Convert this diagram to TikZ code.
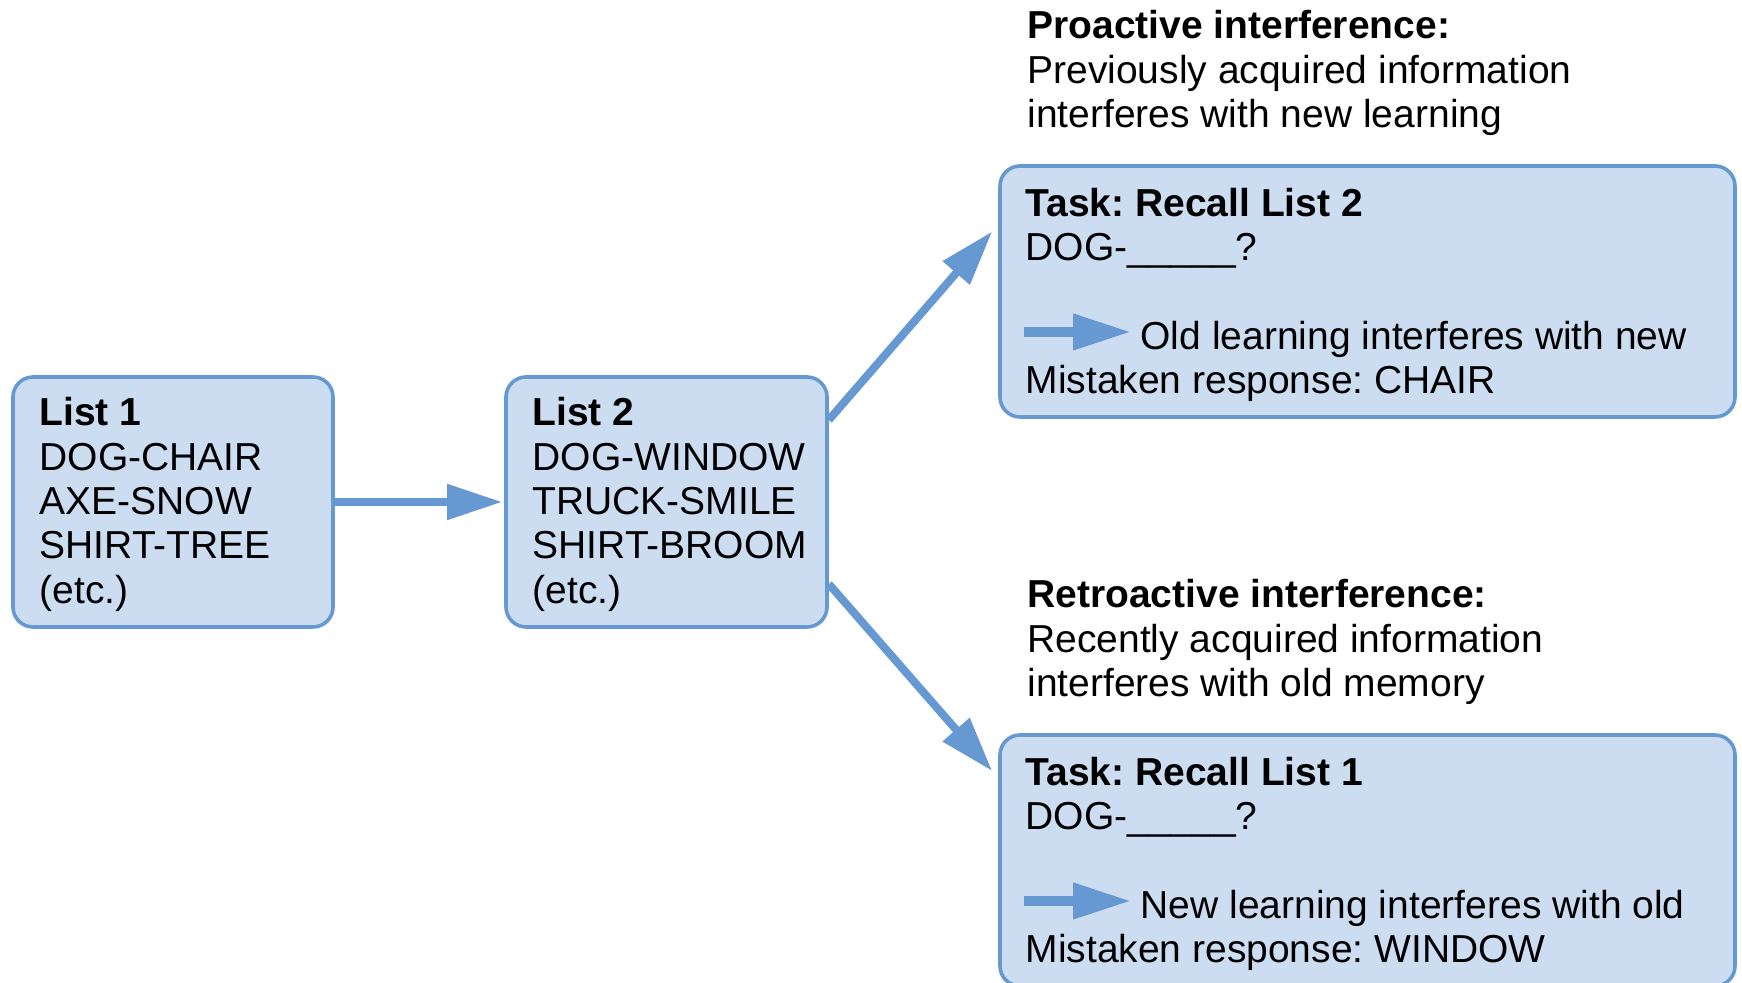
\documentclass[tikz,border=0pt]{standalone}
\usepackage{fontspec}
\setmainfont{Liberation Sans}
\usetikzlibrary{arrows.meta}
\frenchspacing
\definecolor{boxfill}{RGB}{204,221,242}
\definecolor{lineblue}{RGB}{102,153,210}
\begin{document}
\begin{tikzpicture}[x=0.5pt,y=0.5pt,
  box/.style={draw=lineblue, fill=boxfill, line width=1.8pt, rounded corners=10pt, inner sep=0pt},
  txt/.style={align=left, inner sep=0pt, font=\fontsize{19.5}{22.2}\selectfont\frenchspacing},
  conn/.style={draw=lineblue, line width=4pt, -{Triangle[length=27.5pt,width=17pt]}},
  minor/.style={draw=lineblue, line width=5pt, -{Triangle[length=29pt,width=17pt]}}]
\useasboundingbox (0,0) rectangle (1742,983);
% boxes
\node[box, minimum width=160pt, minimum height=125pt] (l1) at (173,481) {};
\node[box, minimum width=160.5pt, minimum height=125pt] (l2) at (666.5,481) {};
\node[box, minimum width=367.5pt, minimum height=125.5pt] (t2) at (1367.5,691.5) {};
\node[box, minimum width=367.5pt, minimum height=125.5pt] (t1) at (1367.5,122.5) {};
% box texts
\node[txt, anchor=west] (l1txt) at ([xshift=14pt,yshift=-1.2pt]l1.west)
  {\textbf{List 1}\\DOG-CHAIR\\AXE-SNOW\\SHIRT-TREE\\(etc.)};
\node[txt, anchor=west] (l2txt) at ([xshift=14pt,yshift=-1.2pt]l2.west)
  {\textbf{List 2}\\DOG-WINDOW\\TRUCK-SMILE\\SHIRT-BROOM\\(etc.)};
\node[txt, anchor=west] (t2txt) at ([xshift=13.5pt,yshift=-1.8pt]t2.west)
  {\textbf{Task: Recall List 2}\\DOG-\_\_\_\_\_?\\\mbox{}\\\hspace*{57.5pt}Old learning interferes with new\\Mistaken response: CHAIR};
\node[txt, anchor=west] (t1txt) at ([xshift=13.5pt,yshift=-1.8pt]t1.west)
  {\textbf{Task: Recall List 1}\\DOG-\_\_\_\_\_?\\\mbox{}\\\hspace*{57.5pt}New learning interferes with old\\Mistaken response: WINDOW};
% headers
\node[txt, anchor=north west] (pro) at (1027,973)
  {\textbf{Proactive interference:}\\Previously acquired information\\interferes with new learning};
\node[txt, anchor=north west] (retro) at (1027,404)
  {\textbf{Retroactive interference:}\\Recently acquired information\\interferes with old memory};
% connectors
\draw[conn] (l1.east) -- ([xshift=-1pt]l2.west);
\coordinate (l2up) at ([yshift=41pt]l2.east);
\coordinate (l2dn) at ([yshift=-41pt]l2.east);
\draw[conn] (l2up) -- ([xshift=-3pt,yshift=30pt]t2.west);
\draw[conn] (l2dn) -- ([xshift=-3pt,yshift=44.75pt]t1.west);
% small arrows inside task boxes
\coordinate (s2a) at ([xshift=13pt,yshift=-20.25pt]t2.west);
\coordinate (s2b) at ([xshift=66.5pt,yshift=-20.25pt]t2.west);
\draw[minor] (s2a) -- (s2b);
\coordinate (s1a) at ([xshift=13pt,yshift=-20.25pt]t1.west);
\coordinate (s1b) at ([xshift=66.5pt,yshift=-20.25pt]t1.west);
\draw[minor] (s1a) -- (s1b);
\end{tikzpicture}
\end{document}
